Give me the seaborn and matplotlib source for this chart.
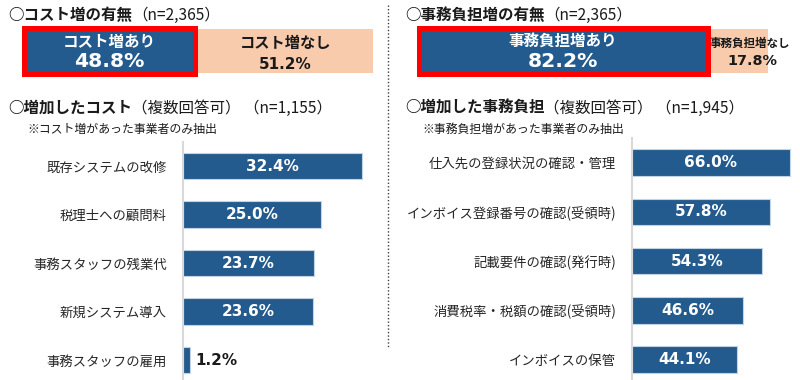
import matplotlib.pyplot as plt
import matplotlib.patches as mpatches
from matplotlib.lines import Line2D
import seaborn as sns

# top: share of respondents with / without an increase
cost_share = [48.8, 51.2]
cost_share_labels = ['コスト増あり', 'コスト増なし']
burden_share = [82.2, 17.8]
burden_share_labels = ['事務負担増あり', '事務負担増なし']

# bottom: breakdown (multiple answers)
cost_items = ['既存システムの改修', '税理士への顧問料', '事務スタッフの残業代',
              '新規システム導入', '事務スタッフの雇用']
cost_values = [32.4, 25.0, 23.7, 23.6, 1.2]
burden_items = ['仕入先の登録状況の確認・管理', 'インボイス登録番号の確認(受領時)',
                '記載要件の確認(発行時)', '消費税率・税額の確認(受領時)', 'インボイスの保管']
burden_values = [66.0, 57.8, 54.3, 46.6, 44.1]

BLUE = '#245b8e'
PEACH = '#f8cbad'
RED = '#ff0000'
DARK = '#1a1a1a'
NUM = ['DejaVu Sans']
W, H = 800, 380

sns.set_theme(style='white')
plt.rcParams['font.family'] = ['Noto Sans CJK JP', 'DejaVu Sans']

fig = plt.figure(figsize=(8, 3.8), dpi=100)


def box(x0, y0, x1, y1):
    # pixel rectangle (top-left origin) -> figure fraction
    return [x0 / W, 1 - y1 / H, (x1 - x0) / W, (y1 - y0) / H]


def title(x, y, bold, normal):
    t = fig.text(x / W, 1 - y / H, bold, fontsize=11.2, fontweight='bold',
                 va='center', color=DARK)
    bb = t.get_window_extent(fig.canvas.get_renderer())
    fig.text(bb.x1 / W, 1 - y / H, normal, fontsize=11.2, va='center', color=DARK)


def share_bar(rect, values, labels, small=False):
    ax = fig.add_axes(box(*rect))
    sns.barplot(x=[100], y=[''], orient='h', color=PEACH, width=1,
                saturation=1, linewidth=0, ax=ax)
    sns.barplot(x=[values[0]], y=[''], orient='h', color=BLUE, width=1,
                saturation=1, linewidth=0, ax=ax)
    ax.set_xlim(0, 100)
    ax.set_ylim(0.5, -0.5)
    ax.axis('off')
    # red highlight frame, overlapping the end of the blue segment
    ax.add_patch(mpatches.Rectangle((0.7, -0.534), values[0] - 0.1, 1.068,
                                    fill=False, ec=RED, lw=3.6,
                                    clip_on=False, zorder=5))
    cx = values[0] / 2 + 0.5
    ax.text(cx, -0.2, labels[0], ha='center', va='center', color='white',
            fontsize=11.2, fontweight='bold')
    ax.text(cx, 0.23, f'{values[0]:.1f}%', ha='center', va='center',
            color='white', fontsize=14.6, fontweight='bold', family=NUM)
    if small:
        ax.text(94.8, -0.18, labels[1], ha='center', va='center', color=DARK,
                fontsize=8.3, fontweight='bold', clip_on=False)
        ax.text(95.5, 0.22, f'{values[1]:.1f}%', ha='center', va='center',
                color=DARK, fontsize=10.4, fontweight='bold', family=NUM)
    else:
        px = values[0] + values[1] / 2 + 0.6
        ax.text(px, -0.18, labels[1], ha='center', va='center', color=DARK,
                fontsize=11, fontweight='bold')
        ax.text(px, 0.3, f'{values[1]:.1f}%', ha='center', va='center',
                color=DARK, fontsize=11, fontweight='bold', family=NUM)


def item_bars(rect, items, values, xmax):
    ax = fig.add_axes(box(*rect))
    sns.barplot(x=values, y=items, orient='h', color=BLUE, width=0.54,
                saturation=1, edgecolor='#c3d3e6', linewidth=0.8, ax=ax)
    ax.set_xlim(0, xmax)
    ax.set_ylim(4.41, -0.5)
    ax.set_xticks([])
    ax.set_xlabel('')
    ax.set_ylabel('')
    for s in ['top', 'right', 'bottom']:
        ax.spines[s].set_visible(False)
    ax.spines['left'].set_color('#d9d9d9')
    ax.spines['left'].set_linewidth(1.5)
    ax.tick_params(axis='y', length=0, pad=11.5, labelsize=9.6,
                   labelcolor='#262626')
    ax.patch.set_alpha(0)
    for i, v in enumerate(values):
        if v > 5:
            ax.text(v / 2, i, f'{v:.1f}%', ha='center', va='center',
                    color='white', fontsize=11, fontweight='bold', family=NUM)
        else:
            ax.text(v + xmax * 0.032, i, f'{v:.1f}%', ha='left', va='center',
                    color=DARK, fontsize=11, fontweight='bold', family=NUM)


# left half
title(8, 15, '○コスト増の有無', '（n=2,365）')
share_bar((22, 29, 373, 73), cost_share, cost_share_labels)
title(8, 108, '○増加したコスト', '（複数回答可） （n=1,155）')
fig.text(27 / W, 1 - 129 / H, '※コスト増があった事業者のみ抽出', fontsize=8.6,
         va='center', color=DARK)
item_bars((183, 141.75, 373, 380), cost_items, cost_values, 190 / 5.52)

# right half
title(405, 15, '○事務負担増の有無', '（n=2,365）')
share_bar((417, 29, 768, 73), burden_share, burden_share_labels, small=True)
title(405, 108, '○増加した事務負担', '（複数回答可） （n=1,945）')
fig.text(422 / W, 1 - 129 / H, '※事務負担増があった事業者のみ抽出', fontsize=8.6,
         va='center', color=DARK)
item_bars((632, 137.85, 800, 380), burden_items, burden_values, 168 / 2.39)

# dotted separator
fig.add_artist(Line2D([388 / W, 388 / W], [1 - 5 / H, 1 - 347 / H],
                      transform=fig.transFigure, color='#404040', lw=1,
                      ls=(0, (1, 1.5))))

fig.savefig('out.png', dpi=100)
plt.close(fig)
